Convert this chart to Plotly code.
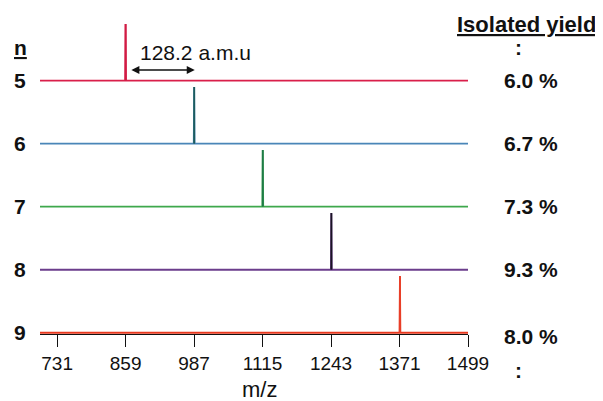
import plotly.graph_objects as go

# ---- data ----
n_values = [5, 6, 7, 8, 9]
peak_mz = [859.0, 987.2, 1115.4, 1243.6, 1371.8]
peak_intensity = [100, 100, 100, 100, 100]
yields = ["6.0 %", "6.7 %", "7.3 %", "9.3 %", "8.0 %"]
tick_vals = [731, 859, 987, 1115, 1243, 1371, 1499]
mz_min, mz_max = 699, 1499

base_colors = ["#d91f4a", "#4a86b8", "#3ea84c", "#6b3d8c", "#e8381e"]
peak_colors = ["#d01c44", "#1d5c5c", "#1f7a48", "#1a1424", "#e8402a"]

scale = 0.9 / 100.0  # intensity -> stacked-axis units

fig = go.Figure()
for i, n in enumerate(n_values):
    off = len(n_values) - 1 - i
    p = peak_mz[i]
    h = peak_intensity[i] * scale
    fig.add_trace(go.Scatter(
        x=[mz_min, p - 0.8, p, p + 0.8, mz_max],
        y=[off, off, off + h, off, off],
        mode="lines", line=dict(color=base_colors[i], width=1.8),
        showlegend=False, hoverinfo="skip"))
    fig.add_trace(go.Scatter(
        x=[p, p], y=[off, off + h],
        mode="lines", line=dict(color=peak_colors[i], width=1.8),
        showlegend=False, hoverinfo="skip"))

# page body has an 8px margin: figure is sized so it fits the window
PAD = 8
W, H = 603 - PAD, 401 - PAD
# plot area in window pixels
X0, X1, Y0, Y1 = 40, 468, 24, 334
L, R, T, B = X0 - PAD, W - (X1 - PAD), Y0 - PAD, H - (Y1 - PAD)
pw, ph = X1 - X0, Y1 - Y0
ymin, ymax = -0.02, 4.9


def py(pix):
    return (Y1 - pix) / ph


def px(pix):
    return (pix - X0) / pw


FAM = "Liberation Sans, Arial, sans-serif"
annotations = []
bold = dict(family=FAM, size=21, color="#111", weight="bold")
for i, n in enumerate(n_values):
    off = len(n_values) - 1 - i
    annotations.append(dict(xref="paper", yref="y", x=px(20), y=off, text=str(n),
                            showarrow=False, font=bold, xanchor="center", yanchor="middle"))
    annotations.append(dict(xref="paper", yref="y", x=px(531), y=off, text=yields[i],
                            showarrow=False, font=bold, xanchor="center", yanchor="middle",
                            yshift=-4 if i == len(n_values) - 1 else 0))
annotations += [
    dict(xref="paper", yref="paper", x=px(20), y=py(48), text="<u>n</u>", showarrow=False,
         font=bold, xanchor="center", yanchor="middle"),
    dict(xref="paper", yref="paper", x=px(526), y=py(24), text="<u>Isolated yield</u>", showarrow=False,
         font=dict(bold, size=22), xanchor="center", yanchor="middle"),
    dict(xref="paper", yref="paper", x=px(518), y=py(48), text=":", showarrow=False,
         font=bold, xanchor="center", yanchor="middle"),
    dict(xref="paper", yref="paper", x=px(518), y=py(370), text=":", showarrow=False,
         font=bold, xanchor="center", yanchor="middle"),
    dict(xref="paper", yref="paper", x=px(260), y=py(389), text="m/z", showarrow=False,
         font=dict(family=FAM, size=22, color="#111"),
         xanchor="center", yanchor="middle"),
    dict(xref="x", yref="paper", x=peak_mz[1] + 2, y=py(52),
         text="128.2 a.m.u", showarrow=False,
         font=dict(family=FAM, size=21, color="#111"),
         xanchor="center", yanchor="middle"),
    dict(xref="x", yref="paper", axref="x", ayref="pixel",
         x=peak_mz[1] + 1, y=py(70), ax=peak_mz[0] + 8, ay=0,
         text="", showarrow=True, arrowhead=2, startarrowhead=2, arrowside="end+start",
         arrowsize=1, arrowwidth=1.6, arrowcolor="#111"),
]

fig.update_layout(
    width=W, height=H,
    margin=dict(l=L, r=R, t=T, b=B),
    paper_bgcolor="white", plot_bgcolor="white",
    annotations=annotations,
    xaxis=dict(range=[mz_min, mz_max], tickvals=tick_vals, ticktext=[str(v) for v in tick_vals],
               showgrid=False, zeroline=False, showline=True, linecolor="#111", linewidth=1,
               ticks="outside", ticklen=12, tickwidth=1.3, tickcolor="#111",
               tickfont=dict(family=FAM, size=19, color="#111")),
    yaxis=dict(range=[ymin, ymax], showgrid=False, zeroline=False, showline=False,
               showticklabels=False, ticks=""),
)

fig.write_html("out.html")
